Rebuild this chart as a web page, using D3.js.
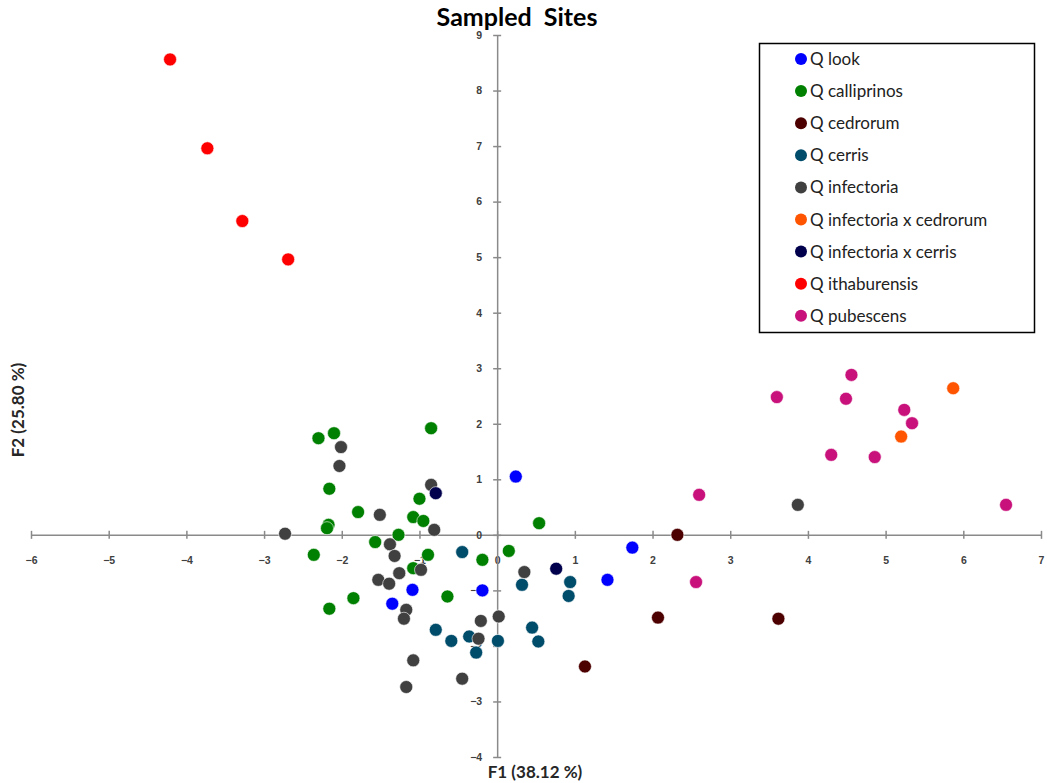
<!DOCTYPE html>
<html>
<head>
<meta charset="utf-8">
<script src="https://cdn.jsdelivr.net/npm/d3@7"></script>
<style>
    body { margin: 0; background: #fff; }
    svg { font-family: Lato, "Open Sans", sans-serif; }
    .axis path, .axis line { stroke: #8a8a8a; stroke-width: 1.5; }
    .axis text { font-size: 10.5px; font-weight: bold; fill: #404040; }
</style>
</head>
<body>
<svg id="chart" width="1047" height="783"></svg>
<script>
// Data //
const species = [
    'Q look', 'Q calliprinos', 'Q cedrorum', 'Q cerris', 'Q infectoria',
    'Q infectoria x cedrorum', 'Q infectoria x cerris', 'Q ithaburensis', 'Q pubescens',
]
const colors = ['#0000ff', '#008000', '#4d0000', '#004c6b', '#404040', '#ff5500', '#00004d', '#ff0000', '#c8117b']

const look = [[0.24, 1.05], [-1.09, -0.99], [-1.35, -1.24], [-0.19, -1.0], [1.74, -0.23], [1.42, -0.81]]
const calliprinos = [
    [-2.30, 1.74], [-2.10, 1.83], [-0.85, 1.92], [-2.16, 0.83], [-1.79, 0.41], [-1.00, 0.65],
    [-1.08, 0.32], [-0.95, 0.25], [-2.17, 0.18], [-2.19, 0.12], [-1.27, 0.0], [-1.57, -0.13],
    [-2.36, -0.36], [-0.89, -0.36], [-1.08, -0.6], [-0.19, -0.45], [0.15, -0.29], [0.54, 0.21],
    [-1.85, -1.14], [-2.16, -1.33], [-0.64, -1.11],
]
const cedrorum = [[2.32, 0.0], [2.07, -1.49], [3.62, -1.51], [1.13, -2.37]]
const cerris = [
    [-0.45, -0.31], [-0.79, -1.71], [-0.59, -1.91], [-0.36, -1.83], [-0.27, -2.12], [0.01, -1.91],
    [0.32, -0.9], [0.45, -1.67], [0.53, -1.92], [0.94, -0.85], [0.92, -1.10],
]
const infectoria = [
    [-2.01, 1.58], [-2.03, 1.24], [-0.85, 0.90], [-1.51, 0.36], [-0.81, 0.09], [-2.73, 0.02],
    [-1.38, -0.17], [-1.32, -0.38], [-1.26, -0.69], [-0.98, -0.63], [-1.53, -0.81], [-1.39, -0.88],
    [-1.17, -1.35], [-1.20, -1.51], [-1.08, -2.26], [-1.17, -2.74], [-0.45, -2.59], [-0.21, -1.55],
    [-0.24, -1.87], [0.02, -1.47], [0.35, -0.67], [3.87, 0.54],
]
const infectoriaXcedrorum = [[5.87, 2.64], [5.20, 1.77]]
const infectoriaXcerris = [[-0.79, 0.75], [0.76, -0.61]]
const ithaburensis = [[-4.21, 8.56], [-3.73, 6.96], [-3.28, 5.65], [-2.69, 4.96]]
const pubescens = [
    [4.56, 2.88], [3.60, 2.48], [4.49, 2.45], [5.24, 2.25], [5.34, 2.01], [4.30, 1.44],
    [4.86, 1.40], [2.60, 0.72], [6.55, 0.54], [2.56, -0.85],
]

const xTicks = d3.range(-6, 8)
const yTicks = d3.range(-4, 10)

const groups = [look, calliprinos, cedrorum, cerris, infectoria,
    infectoriaXcedrorum, infectoriaXcerris, ithaburensis, pubescens]

// Scales //
const svg = d3.select('#chart')
const x = d3.scaleLinear().domain([-6, 7]).range([31, 1041])
const y = d3.scaleLinear().domain([-4, 9]).range([757, 35])

// Axes //
const xAxis = svg.append('g')
    .attr('class', 'axis')
    .attr('transform', `translate(0,${y(0)})`)
    .call(d3.axisBottom(x).tickValues(xTicks).tickSize(4).tickSizeOuter(0).tickPadding(18))
xAxis.selectAll('.tick line').attr('y1', -4).attr('y2', 4)

const yAxis = svg.append('g')
    .attr('class', 'axis')
    .attr('transform', `translate(${x(0)},0)`)
    .call(d3.axisLeft(y).tickValues(yTicks).tickSize(4).tickSizeOuter(0).tickPadding(11))
yAxis.selectAll('.tick line').attr('x1', -4).attr('x2', 4)

// Points //
const points = groups.flatMap((g, i) => g.map(d => ({ x: d[0], y: d[1], s: i })))

svg.append('g')
    .selectAll('circle')
    .data(points)
    .enter()
    .append('circle')
        .attr('cx', d => x(d.x))
        .attr('cy', d => y(d.y))
        .attr('r', 6.5)
        .attr('fill', d => colors[d.s])
        .attr('stroke', '#fff')
        .attr('stroke-width', 0.6)

// Titles //
svg.append('text')
    .attr('x', 517).attr('y', 26)
    .attr('text-anchor', 'middle')
    .attr('font-size', 25).attr('font-weight', 'bold')
    .attr('fill', '#000')
    .style('white-space', 'pre')
    .text('Sampled  Sites')

svg.append('text')
    .attr('x', 535).attr('y', 778)
    .attr('text-anchor', 'middle')
    .attr('font-size', 17).attr('font-weight', 'bold')
    .attr('fill', '#262626')
    .text('F1 (38.12 %)')

svg.append('text')
    .attr('transform', 'translate(24,410) rotate(-90)')
    .attr('text-anchor', 'middle')
    .attr('font-size', 17).attr('font-weight', 'bold')
    .attr('fill', '#262626')
    .text('F2 (25.80 %)')

// Legend //
const legend = svg.append('g')
legend.append('rect')
    .attr('x', 759.5).attr('y', 43.5)
    .attr('width', 275).attr('height', 289)
    .attr('fill', '#fff').attr('stroke', '#000').attr('stroke-width', 1.5)

const items = legend.selectAll('.item')
    .data(species)
    .enter()
    .append('g')
        .attr('class', 'item')
        .attr('transform', (d, i) => `translate(801,${59 + i * 32.1})`)

items.append('circle')
    .attr('r', 6)
    .attr('fill', (d, i) => colors[i])

items.append('text')
    .attr('x', 9).attr('y', 6)
    .attr('font-size', 17)
    .attr('fill', '#222')
    .text(d => d)
</script>
</body>
</html>
